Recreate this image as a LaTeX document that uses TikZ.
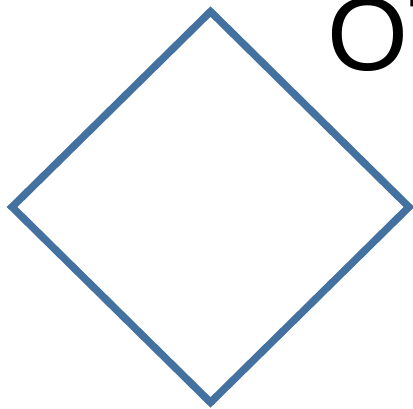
\documentclass[tikz,border=0pt]{standalone}
\usepackage{fontspec}
\setmainfont{Liberation Sans}
\usetikzlibrary{shapes.geometric}
\definecolor{edgecol}{RGB}{68,114,160}

\begin{document}
\begin{tikzpicture}[
    x=1pt, y=-1pt,
    decision/.style={diamond, draw=edgecol, line width=7.5pt, inner sep=0pt,
                     minimum width=400pt, minimum height=394pt},
    bigtext/.style={font=\fontsize{104}{104}\selectfont, inner sep=0pt, anchor=base west},
]
\useasboundingbox (0,0) rectangle (413,409);
\clip (0,0) rectangle (413,409);

% decision shape
\node[decision] (gate) at (210.5,207) {};

% cut-off label at the top right
\node[bigtext] (gatelabel) at (327.5,71) {OT};

\end{tikzpicture}
\end{document}
